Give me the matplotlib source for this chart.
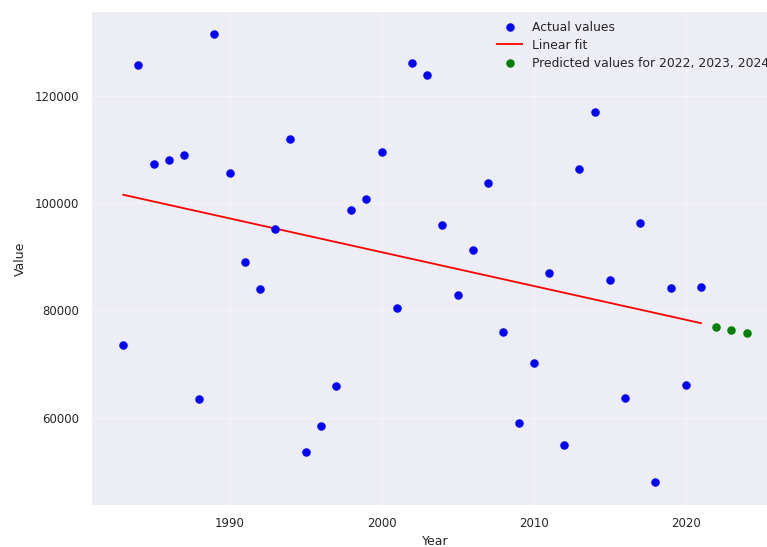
import numpy as np
import matplotlib
matplotlib.use("Agg")
import matplotlib.pyplot as plt

# Yearly observations
years = np.arange(1983, 2022)
values = [
    73500, 125700, 107300, 108000, 109000, 63400, 131400, 105600, 89000, 83900,
    95100, 111900, 53600, 58400, 65800, 98600, 100800, 109500, 80400, 126100,
    123900, 95900, 82800, 91200, 103800, 75900, 59000, 70200, 87000, 54900,
    106400, 116900, 85700, 63600, 96200, 47900, 84100, 66000, 84400,
]
future_years = [2022, 2023, 2024]

# Least-squares linear trend and its extrapolation
slope, intercept = np.polyfit(years, values, 1)
fit_values = slope * years + intercept
predicted = slope * np.array(future_years) + intercept

plt.rcParams.update({
    "font.family": "DejaVu Sans",
    "text.color": "#262626",
    "axes.labelcolor": "#262626",
    "xtick.color": "#262626",
    "ytick.color": "#262626",
})

fig = plt.figure(figsize=(7.67, 5.47), dpi=100)
ax = fig.add_axes([0.12, 0.077, 0.894, 0.901])
ax.set_facecolor("#EDEDF5")
for s in ax.spines.values():
    s.set_visible(False)
ax.grid(True, color="#F4F4F9", linewidth=0.8)
ax.set_axisbelow(True)

ax.scatter(years, values, color="blue", s=26, label="Actual values", zorder=3)
ax.plot(years, fit_values, color="red", linewidth=1.3, label="Linear fit", zorder=2)
ax.scatter(future_years, predicted, color="green", s=26,
           label="Predicted values for 2022, 2023, 2024", zorder=3)

ax.set_xticks([1990, 2000, 2010, 2020])
ax.set_yticks([60000, 80000, 100000, 120000])
ax.tick_params(axis="both", length=0, pad=9, labelsize=8.5)
ax.set_xlabel("Year", fontsize=9, labelpad=3)
ax.set_ylabel("Value", fontsize=9, labelpad=6)

leg = ax.legend(loc="upper right", fontsize=8.9, frameon=False,
                handlelength=2.0, labelspacing=0.4, borderaxespad=0.3)

fig.savefig("out.png", dpi=100)
